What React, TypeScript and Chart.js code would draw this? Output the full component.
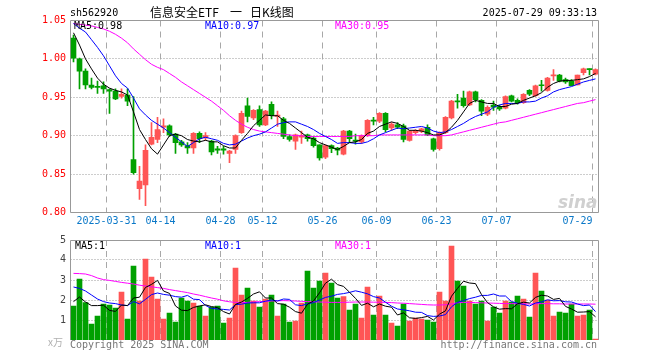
import React, { useEffect, useRef } from 'react';
import { Chart, registerables } from 'chart.js';

Chart.register(...registerables);

// ---------- data ----------
const dates = [
  '2025-03-21', '2025-03-24', '2025-03-25', '2025-03-26', '2025-03-27', '2025-03-28', '2025-03-31', '2025-04-01', '2025-04-02', '2025-04-03',
  '2025-04-07', '2025-04-08', '2025-04-09', '2025-04-10', '2025-04-11', '2025-04-14', '2025-04-15', '2025-04-16', '2025-04-17', '2025-04-18',
  '2025-04-21', '2025-04-22', '2025-04-23', '2025-04-24', '2025-04-25', '2025-04-28', '2025-04-29', '2025-04-30', '2025-05-06', '2025-05-07',
  '2025-05-08', '2025-05-09', '2025-05-12', '2025-05-13', '2025-05-14', '2025-05-15', '2025-05-16', '2025-05-19', '2025-05-20', '2025-05-21',
  '2025-05-22', '2025-05-23', '2025-05-26', '2025-05-27', '2025-05-28', '2025-05-29', '2025-05-30', '2025-06-03', '2025-06-04', '2025-06-05',
  '2025-06-06', '2025-06-09', '2025-06-10', '2025-06-11', '2025-06-12', '2025-06-13', '2025-06-16', '2025-06-17', '2025-06-18', '2025-06-19',
  '2025-06-20', '2025-06-23', '2025-06-24', '2025-06-25', '2025-06-26', '2025-06-27', '2025-06-30', '2025-07-01', '2025-07-02', '2025-07-03',
  '2025-07-04', '2025-07-07', '2025-07-08', '2025-07-09', '2025-07-10', '2025-07-11', '2025-07-14', '2025-07-15', '2025-07-16', '2025-07-17',
  '2025-07-18', '2025-07-21', '2025-07-22', '2025-07-23', '2025-07-24', '2025-07-25', '2025-07-28', '2025-07-29',
];

const open = [
  1.027, 1.000, 0.984, 0.966, 0.964, 0.965, 0.960, 0.958, 0.951, 0.953,
  0.869, 0.831, 0.836, 0.889, 0.895, 0.911, 0.913, 0.902, 0.892, 0.887,
  0.884, 0.903, 0.897, 0.893, 0.883, 0.883, 0.877, 0.882, 0.904, 0.939,
  0.923, 0.934, 0.914, 0.941, 0.925, 0.922, 0.899, 0.893, 0.898, 0.901,
  0.897, 0.888, 0.872, 0.887, 0.884, 0.876, 0.906, 0.894, 0.892, 0.900,
  0.920, 0.919, 0.929, 0.910, 0.914, 0.913, 0.894, 0.904, 0.906, 0.911,
  0.896, 0.883, 0.904, 0.923, 0.945, 0.949, 0.940, 0.957, 0.946, 0.928,
  0.940, 0.938, 0.936, 0.952, 0.946, 0.943, 0.959, 0.952, 0.966, 0.959,
  0.978, 0.979, 0.973, 0.971, 0.966, 0.982, 0.987, 0.980,
];

const high = [
  1.031, 1.001, 0.987, 0.975, 0.971, 0.970, 0.961, 0.961, 0.961, 0.961,
  0.951, 0.860, 0.888, 0.917, 0.924, 0.922, 0.914, 0.903, 0.894, 0.891,
  0.904, 0.905, 0.904, 0.894, 0.886, 0.886, 0.881, 0.901, 0.932, 0.949,
  0.934, 0.939, 0.933, 0.944, 0.932, 0.924, 0.901, 0.902, 0.906, 0.902,
  0.899, 0.888, 0.888, 0.888, 0.885, 0.907, 0.907, 0.902, 0.901, 0.921,
  0.924, 0.930, 0.930, 0.917, 0.917, 0.915, 0.907, 0.908, 0.910, 0.914,
  0.897, 0.905, 0.925, 0.946, 0.954, 0.958, 0.958, 0.958, 0.947, 0.939,
  0.945, 0.940, 0.952, 0.953, 0.948, 0.955, 0.960, 0.966, 0.972, 0.976,
  0.986, 0.980, 0.975, 0.973, 0.979, 0.988, 0.987, 0.987,
];

const low = [
  0.996, 0.961, 0.961, 0.961, 0.955, 0.955, 0.929, 0.947, 0.949, 0.939,
  0.850, 0.817, 0.809, 0.888, 0.891, 0.904, 0.899, 0.877, 0.886, 0.877,
  0.877, 0.891, 0.894, 0.875, 0.877, 0.876, 0.865, 0.877, 0.903, 0.918,
  0.921, 0.912, 0.913, 0.922, 0.912, 0.896, 0.893, 0.882, 0.890, 0.893,
  0.885, 0.868, 0.870, 0.878, 0.875, 0.875, 0.891, 0.889, 0.890, 0.899,
  0.914, 0.917, 0.905, 0.907, 0.909, 0.892, 0.893, 0.902, 0.904, 0.900,
  0.880, 0.881, 0.903, 0.922, 0.936, 0.937, 0.939, 0.944, 0.926, 0.926,
  0.933, 0.933, 0.935, 0.944, 0.941, 0.942, 0.952, 0.951, 0.958, 0.958,
  0.972, 0.970, 0.968, 0.965, 0.966, 0.979, 0.979, 0.979,
];

const close = [
  1.001, 0.984, 0.966, 0.963, 0.963, 0.961, 0.958, 0.948, 0.954, 0.945,
  0.852, 0.841, 0.881, 0.898, 0.908, 0.913, 0.901, 0.891, 0.888, 0.884,
  0.903, 0.896, 0.900, 0.879, 0.881, 0.881, 0.880, 0.900, 0.929, 0.925,
  0.933, 0.914, 0.932, 0.926, 0.927, 0.899, 0.895, 0.901, 0.900, 0.896,
  0.887, 0.871, 0.887, 0.883, 0.881, 0.906, 0.896, 0.893, 0.900, 0.920,
  0.919, 0.929, 0.908, 0.915, 0.911, 0.895, 0.906, 0.907, 0.909, 0.901,
  0.882, 0.904, 0.924, 0.945, 0.944, 0.939, 0.957, 0.947, 0.932, 0.937,
  0.937, 0.935, 0.951, 0.945, 0.943, 0.954, 0.954, 0.965, 0.965, 0.975,
  0.979, 0.971, 0.970, 0.965, 0.979, 0.987, 0.986, 0.986,
];

const ma5 = [
  1.034, 1.018, 1.000, 0.987, 0.975, 0.967, 0.962, 0.959, 0.957, 0.953,
  0.931, 0.908, 0.895, 0.883, 0.876, 0.888, 0.900, 0.902, 0.900, 0.895,
  0.893, 0.892, 0.894, 0.892, 0.892, 0.887, 0.884, 0.884, 0.894, 0.903,
  0.913, 0.920, 0.927, 0.926, 0.926, 0.920, 0.916, 0.910, 0.904, 0.898,
  0.896, 0.891, 0.888, 0.885, 0.882, 0.886, 0.891, 0.892, 0.895, 0.903,
  0.906, 0.912, 0.915, 0.918, 0.916, 0.912, 0.907, 0.907, 0.906, 0.904,
  0.901, 0.901, 0.904, 0.911, 0.920, 0.931, 0.942, 0.946, 0.944, 0.942,
  0.942, 0.938, 0.938, 0.941, 0.942, 0.946, 0.949, 0.952, 0.956, 0.963,
  0.968, 0.971, 0.972, 0.972, 0.973, 0.974, 0.977, 0.981,
];

const ma10 = [
  1.046, 1.040, 1.035, 1.025, 1.015, 1.004, 0.991, 0.978, 0.968, 0.962,
  0.949, 0.935, 0.927, 0.920, 0.915, 0.910, 0.904, 0.898, 0.892, 0.886,
  0.891, 0.896, 0.898, 0.896, 0.894, 0.890, 0.888, 0.889, 0.893, 0.897,
  0.900, 0.902, 0.905, 0.910, 0.915, 0.917, 0.918, 0.918, 0.915, 0.912,
  0.908, 0.903, 0.899, 0.895, 0.890, 0.891, 0.891, 0.890, 0.890, 0.892,
  0.896, 0.901, 0.904, 0.907, 0.910, 0.909, 0.910, 0.911, 0.912, 0.910,
  0.906, 0.904, 0.905, 0.908, 0.912, 0.916, 0.921, 0.925, 0.928, 0.931,
  0.937, 0.940, 0.942, 0.942, 0.942, 0.944, 0.944, 0.945, 0.949, 0.952,
  0.957, 0.960, 0.962, 0.964, 0.967, 0.970, 0.972, 0.974,
];

const ma30 = [
  1.046, 1.045, 1.044, 1.043, 1.041, 1.039, 1.036, 1.032, 1.027, 1.021,
  1.013, 1.006, 0.999, 0.993, 0.989, 0.986, 0.981, 0.976, 0.970, 0.965,
  0.960, 0.955, 0.950, 0.945, 0.939, 0.933, 0.926, 0.920, 0.915, 0.911,
  0.908, 0.906, 0.905, 0.904, 0.903, 0.902, 0.901, 0.900, 0.900, 0.899,
  0.899, 0.899, 0.899, 0.899, 0.899, 0.899, 0.899, 0.900, 0.900, 0.900,
  0.900, 0.901, 0.901, 0.901, 0.901, 0.901, 0.901, 0.901, 0.901, 0.901,
  0.900, 0.900, 0.900, 0.901, 0.903, 0.905, 0.907, 0.909, 0.911, 0.913,
  0.915, 0.917, 0.918, 0.920, 0.922, 0.924, 0.926, 0.928, 0.930, 0.932,
  0.934, 0.936, 0.938, 0.940, 0.942, 0.943, 0.945, 0.947,
];

const volume = [
  1.70, 3.05, 1.87, 0.80, 1.20, 1.80, 1.75, 1.60, 2.40, 1.05,
  3.70, 1.95, 4.05, 3.15, 2.05, 1.05, 1.35, 0.90, 2.10, 1.95,
  1.85, 1.70, 1.20, 1.65, 1.70, 0.85, 1.10, 3.60, 2.25, 2.60,
  1.95, 1.65, 2.05, 2.25, 1.20, 1.80, 0.90, 0.95, 1.85, 3.45,
  2.60, 2.95, 3.35, 2.85, 2.10, 2.17, 1.50, 1.80, 1.10, 2.65,
  1.25, 2.20, 1.25, 0.85, 0.70, 1.80, 0.95, 1.10, 1.05, 1.00,
  0.90, 2.40, 1.95, 4.70, 2.95, 2.70, 1.95, 1.80, 1.95, 0.95,
  1.65, 1.35, 1.95, 1.90, 2.20, 2.05, 1.15, 3.35, 2.45, 2.00,
  1.20, 1.40, 1.35, 1.80, 1.20, 1.25, 1.50, 0.05,
];

const volMa5 = [
  1.92, 2.15, 1.90, 1.72, 1.72, 1.74, 1.48, 1.43, 1.75, 1.72,
  2.10, 2.14, 2.63, 2.78, 2.98, 2.45, 2.33, 1.70, 1.49, 1.47,
  1.63, 1.70, 1.76, 1.67, 1.62, 1.42, 1.30, 1.78, 1.90, 2.08,
  2.30, 2.41, 2.10, 2.10, 1.82, 1.79, 1.64, 1.42, 1.34, 1.79,
  1.95, 2.36, 2.84, 3.04, 2.77, 2.68, 2.39, 2.08, 1.73, 1.84,
  1.66, 1.80, 1.69, 1.64, 1.25, 1.36, 1.11, 1.08, 1.12, 1.18,
  1.00, 1.29, 1.46, 2.19, 2.58, 2.94, 2.85, 2.82, 2.27, 1.87,
  1.66, 1.54, 1.57, 1.56, 1.81, 1.89, 1.85, 2.13, 2.24, 2.20,
  2.03, 2.08, 1.68, 1.55, 1.39, 1.40, 1.42, 1.16,
];

const volMa10 = [
  2.65, 2.58, 2.45, 2.25, 2.05, 1.92, 1.85, 1.82, 1.75, 1.72,
  1.92, 1.81, 2.03, 2.27, 2.35, 2.28, 2.24, 2.17, 2.14, 2.23,
  2.04, 2.02, 1.73, 1.58, 1.55, 1.53, 1.50, 1.77, 1.79, 1.85,
  1.86, 1.86, 1.94, 2.00, 1.95, 2.05, 2.03, 1.76, 1.72, 1.81,
  1.87, 2.00, 2.13, 2.19, 2.28, 2.32, 2.38, 2.46, 2.39, 2.31,
  2.17, 2.10, 1.89, 1.69, 1.55, 1.51, 1.46, 1.39, 1.38, 1.22,
  1.18, 1.20, 1.27, 1.66, 1.88, 1.97, 2.07, 2.14, 2.23, 2.23,
  2.30, 2.20, 2.20, 1.92, 1.84, 1.78, 1.70, 1.85, 1.90, 2.01,
  1.96, 1.97, 1.91, 1.90, 1.80, 1.72, 1.75, 1.42,
];

const volMa30 = [
  3.33, 3.32, 3.30, 3.22, 3.10, 3.02, 2.98, 2.93, 2.88, 2.84,
  2.80, 2.74, 2.70, 2.66, 2.62, 2.58, 2.52, 2.47, 2.42, 2.37,
  2.30, 2.24, 2.17, 2.10, 2.04, 1.96, 1.91, 1.88, 1.87, 1.88,
  1.90, 1.92, 1.93, 1.95, 1.96, 1.97, 1.96, 1.95, 1.93, 1.92,
  1.91, 1.90, 1.89, 1.88, 1.88, 1.88, 1.89, 1.90, 1.90, 1.90,
  1.89, 1.89, 1.88, 1.87, 1.85, 1.84, 1.82, 1.80, 1.78, 1.76,
  1.75, 1.75, 1.76, 1.80, 1.86, 1.88, 1.88, 1.87, 1.86, 1.85,
  1.84, 1.83, 1.82, 1.82, 1.81, 1.81, 1.80, 1.81, 1.82, 1.82,
  1.81, 1.81, 1.80, 1.80, 1.80, 1.80, 1.80, 1.79,
];

const priceTicks = [1.05, 1.0, 0.95, 0.9, 0.85, 0.8];
const volumeTicks = [5, 4, 3, 2, 1];
const dateTicks = ['2025-03-31', '2025-04-14', '2025-04-28', '2025-05-12', '2025-05-26', '2025-06-09', '2025-06-23', '2025-07-07', '2025-07-29'];

const symbol = 'sh562920';
const titleParts = ['信息安全ETF', '一', '日K线图'];
const timestamp = '2025-07-29 09:33:13';

// ---------- styles ----------
const UP = '#ff5555';
const DOWN = '#00a000';
const C_MA5 = '#000000';
const C_MA10 = '#0000ff';
const C_MA30 = '#ff00ff';
const MONO = '10px "DejaVu Sans Mono", "Liberation Mono", monospace';
const CJK = '12px "Noto Sans CJK SC", sans-serif';

const candleColors = close.map((c, i) => (c >= open[i] ? UP : DOWN));

function txt(ctx: CanvasRenderingContext2D, s: string, x: number, y: number, color: string, align: CanvasTextAlign = 'left', font = MONO) {
  ctx.save();
  ctx.font = font;
  ctx.fillStyle = color;
  ctx.textAlign = align;
  ctx.textBaseline = 'middle';
  ctx.fillText(s, x, y);
  ctx.restore();
}

function drawFrame(chart: any, ticks: number[], bottomBorder: boolean) {
  const { ctx, chartArea: a, scales } = chart;
  const x = scales.x;
  const y = scales.y;
  ctx.save();
  ctx.lineWidth = 1;
  // horizontal dotted grid
  ctx.strokeStyle = '#9a9a9a';
  ctx.setLineDash([1, 2]);
  ticks.forEach((v) => {
    const py = Math.floor(y.getPixelForValue(v)) + 0.5;
    if (py <= a.top + 1 || py >= a.bottom - 1) return;
    ctx.beginPath();
    ctx.moveTo(a.left, py);
    ctx.lineTo(a.right, py);
    ctx.stroke();
  });
  // vertical dashed grid
  ctx.strokeStyle = '#a8a8a8';
  ctx.setLineDash([6, 5]);
  const half = (x.getPixelForValue(1) - x.getPixelForValue(0)) / 2;
  dateTicks.forEach((d) => {
    const i = dates.indexOf(d);
    const px = Math.floor(x.getPixelForValue(i) - half) + 0.5;
    ctx.beginPath();
    ctx.moveTo(px, a.top);
    ctx.lineTo(px, a.bottom);
    ctx.stroke();
  });
  // border
  ctx.setLineDash([]);
  ctx.strokeStyle = '#999999';
  const l = Math.floor(a.left) + 0.5;
  const r = Math.floor(a.right) + 0.5;
  const t = Math.floor(a.top) + 0.5;
  const b = Math.floor(a.bottom) + 0.5;
  ctx.beginPath();
  if (bottomBorder) {
    ctx.moveTo(l, b);
    ctx.lineTo(l, t);
    ctx.lineTo(r, t);
    ctx.lineTo(r, b);
    ctx.closePath();
  } else {
    ctx.moveTo(l, a.bottom);
    ctx.lineTo(l, t);
    ctx.lineTo(r, t);
    ctx.lineTo(r, a.bottom);
  }
  ctx.stroke();
  ctx.restore();
}

const pricePlugin = {
  id: 'priceDecor',
  beforeDraw(chart: any) {
    const { ctx, width, height } = chart;
    ctx.save();
    ctx.fillStyle = '#ffffff';
    ctx.fillRect(0, 0, width, height);
    ctx.restore();
  },
  beforeDatasetsDraw(chart: any) {
    const { ctx, chartArea: a } = chart;
    drawFrame(chart, priceTicks, true);
    // watermark
    ctx.save();
    ctx.font = 'italic bold 17px "DejaVu Sans", sans-serif';
    ctx.fillStyle = '#d0d0d0';
    ctx.textAlign = 'right';
    ctx.textBaseline = 'alphabetic';
    ctx.fillText('sina', a.right - 1, a.bottom - 5);
    ctx.restore();
  },
  afterDatasetsDraw(chart: any) {
    const { ctx, chartArea: a, scales } = chart;
    const x = scales.x;
    const y = scales.y;
    // y labels
    priceTicks.forEach((v) => txt(ctx, v.toFixed(2), 66, Math.floor(y.getPixelForValue(v)) + 0.5, '#ff0000', 'right'));
    // date labels
    ctx.save();
    ctx.font = MONO;
    const half = (x.getPixelForValue(1) - x.getPixelForValue(0)) / 2;
    dateTicks.forEach((d, k) => {
      const i = dates.indexOf(d);
      const px = Math.floor(x.getPixelForValue(i) - half) + 0.5;
      const label = k === 0 ? d : d.slice(5);
      const w = ctx.measureText(label).width;
      if (px + w / 2 > a.right) txt(ctx, label, px, 221.5, '#0a78c8', 'right');
      else txt(ctx, label, px, 221.5, '#0a78c8', 'center');
    });
    ctx.restore();
    // legends
    const n = close.length - 1;
    txt(ctx, 'MA5:' + ma5[n].toFixed(2), 74, 26, C_MA5);
    txt(ctx, 'MA10:' + ma10[n].toFixed(2), 205, 26, C_MA10);
    txt(ctx, 'MA30:' + ma30[n].toFixed(2), 335, 26, C_MA30);
    // header
    txt(ctx, symbol, 70, 13, '#000000');
    txt(ctx, titleParts[0], 150, 12, '#000000', 'left', CJK);
    txt(ctx, titleParts[1], 230, 12, '#000000', 'left', CJK);
    txt(ctx, titleParts[2], 250, 12, '#000000', 'left', CJK);
    txt(ctx, timestamp, 597, 13, '#000000', 'right');
  },
};

const volumePlugin = {
  id: 'volumeDecor',
  beforeDraw(chart: any) {
    const { ctx, width, height } = chart;
    ctx.save();
    ctx.fillStyle = '#ffffff';
    ctx.fillRect(0, 0, width, height);
    ctx.restore();
  },
  beforeDatasetsDraw(chart: any) {
    drawFrame(chart, volumeTicks, false);
  },
  afterDatasetsDraw(chart: any) {
    const { ctx, scales, chartArea: a } = chart;
    const y = scales.y;
    volumeTicks.forEach((v) => txt(ctx, String(v), 66, Math.floor(y.getPixelForValue(v)) + 0.5, '#444444', 'right'));
    txt(ctx, 'x万', 48, 110, '#b0b0b0', 'left', '10px "Noto Sans CJK SC", sans-serif');
    const n = volume.length - 1;
    txt(ctx, 'MA5:' + Math.floor(volMa5[n]), 75, 14, C_MA5);
    txt(ctx, 'MA10:' + Math.floor(volMa10[n]), 205, 14, C_MA10);
    txt(ctx, 'MA30:' + Math.floor(volMa30[n]), 335, 14, C_MA30);
    txt(ctx, 'Copyright 2025 SINA.COM', 70, 113.5, '#777777');
    txt(ctx, 'http://finance.sina.com.cn', Math.floor(a.right) - 1, 113.5, '#777777', 'right');
  },
};

const lineDs = (label: string, data: number[], color: string) => ({
  type: 'line' as const,
  label,
  data,
  borderColor: color,
  backgroundColor: color,
  borderWidth: 1,
  pointRadius: 0,
  tension: 0,
  order: 0,
});

export default function App() {
  const priceRef = useRef<HTMLCanvasElement>(null);
  const volRef = useRef<HTMLCanvasElement>(null);

  useEffect(() => {
    const common = {
      responsive: false,
      animation: false as const,
      devicePixelRatio: 1,
      events: [] as any[],
      plugins: { legend: { display: false }, tooltip: { enabled: false } },
    };

    const price = new Chart(priceRef.current as HTMLCanvasElement, {
      type: 'bar',
      data: {
        labels: dates,
        datasets: [
          lineDs('MA5', ma5, C_MA5),
          lineDs('MA10', ma10, C_MA10),
          lineDs('MA30', ma30, C_MA30),
          {
            type: 'bar',
            label: 'body',
            data: open.map((o, i) => [o, close[i]]),
            backgroundColor: candleColors,
            borderWidth: 0,
            barThickness: 5,
            minBarLength: 1,
            grouped: false,
            order: 1,
          } as any,
          {
            type: 'bar',
            label: 'wick',
            data: low.map((l, i) => [l, high[i]]),
            backgroundColor: candleColors,
            borderWidth: 0,
            barThickness: 1,
            grouped: false,
            order: 2,
          } as any,
        ],
      },
      options: {
        ...common,
        layout: { padding: { left: 70.5, right: 61.5, top: 20.5, bottom: 19.5 } },
        scales: {
          x: { type: 'category', offset: true, display: false },
          y: { type: 'linear', min: 0.8, max: 1.05, display: false },
        },
      } as any,
      plugins: [pricePlugin],
    });

    const vol = new Chart(volRef.current as HTMLCanvasElement, {
      type: 'bar',
      data: {
        labels: dates,
        datasets: [
          lineDs('MA5', volMa5, C_MA5),
          lineDs('MA10', volMa10, C_MA10),
          lineDs('MA30', volMa30, C_MA30),
          {
            type: 'bar',
            label: 'volume',
            data: volume,
            backgroundColor: candleColors,
            borderWidth: 0,
            barThickness: 5,
            grouped: false,
            order: 1,
          } as any,
        ],
      },
      options: {
        ...common,
        layout: { padding: { left: 70.5, right: 61.5, top: 8, bottom: 20 } },
        scales: {
          x: { type: 'category', offset: true, display: false },
          y: { type: 'linear', min: 0, max: 5, display: false },
        },
      } as any,
      plugins: [volumePlugin],
    });

    return () => {
      price.destroy();
      vol.destroy();
    };
  }, []);

  return (
    <div style={{ position: 'fixed', left: 0, top: 0, width: 660, height: 360, background: '#fff' }}>
      <canvas ref={priceRef} width={660} height={232} style={{ position: 'absolute', left: 0, top: 0, width: 660, height: 232 }} />
      <canvas ref={volRef} width={660} height={128} style={{ position: 'absolute', left: 0, top: 232, width: 660, height: 128 }} />
    </div>
  );
}
